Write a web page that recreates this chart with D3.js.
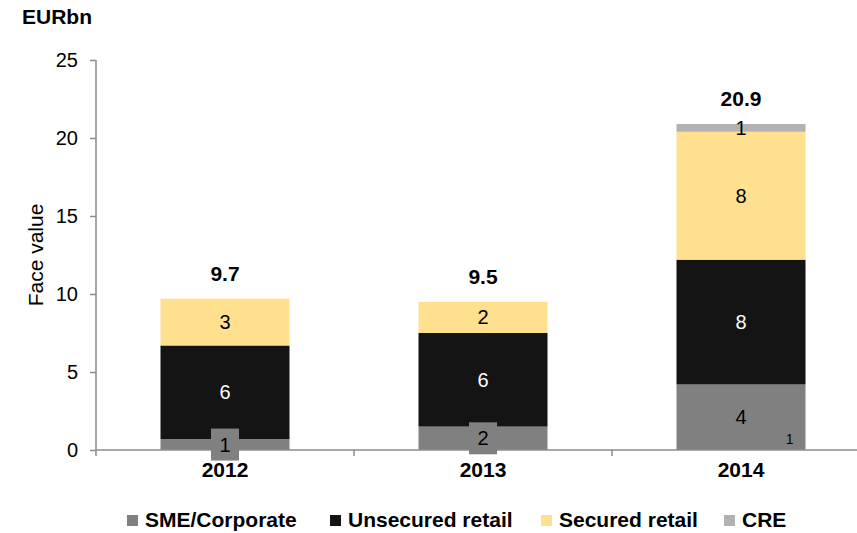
<!DOCTYPE html>
<html><head><meta charset="utf-8">
<script src="https://cdn.jsdelivr.net/npm/d3@7"></script>
<style>body{margin:0;background:#fff}svg{display:block}text{font-family:"Liberation Sans",Arial,sans-serif}</style>
</head><body>
<svg id="c" width="857" height="533"></svg>
<script>
const years = ["2012", "2013", "2014"];
const seriesNames = ["SME/Corporate", "Unsecured retail", "Secured retail", "CRE"];
const smeCorporate = [0.7, 1.5, 4.2];
const unsecuredRetail = [6.0, 6.0, 8.0];
const securedRetail = [3.0, 2.0, 8.2];
const cre = [0.0, 0.0, 0.5];
const segmentLabels = [["1", "6", "3", ""], ["2", "6", "2", ""], ["4", "8", "8", "1"]];
const totals = ["9.7", "9.5", "20.9"];
const yTicks = [0, 5, 10, 15, 20, 25];
const colors = ["#808080", "#141414", "#FFE08F", "#B2B2B2"];
const labelColors = ["#000", "#fff", "#000", "#000"];

const svg = d3.select("#c");
const x = d3.scaleBand().domain(years).range([96, 870]).paddingInner(0.5).paddingOuter(0.25);
const y = d3.scaleLinear().domain([0, 25]).range([450, 60]);
const FS = 20;   // ticks, data labels
const FB = 21;   // bold texts

const table = years.map((yr, i) => ({year: yr, s0: smeCorporate[i], s1: unsecuredRetail[i], s2: securedRetail[i], s3: cre[i]}));
const stack = d3.stack().keys(["s0", "s1", "s2", "s3"])(table);

// bars
stack.forEach((layer, k) => {
  svg.append("g").selectAll("rect").data(layer).join("rect")
    .attr("x", d => x(d.data.year))
    .attr("width", x.bandwidth())
    .attr("y", d => y(d[1]))
    .attr("height", d => y(d[0]) - y(d[1]))
    .attr("fill", colors[k]);
});

// y axis
const yAxis = svg.append("g").attr("transform", "translate(96,0)")
  .call(d3.axisLeft(y).tickValues(yTicks).tickSize(6).tickPadding(12));
yAxis.select(".domain").attr("stroke", "#8c8c8c").attr("stroke-width", 1.5).attr("d", "M0,60V456");
yAxis.selectAll(".tick line").attr("stroke", "#8c8c8c").attr("stroke-width", 1.5);
yAxis.selectAll(".tick text").attr("font-size", FS).attr("fill", "#000")
  .attr("font-family", "Liberation Sans, Arial, sans-serif");

// x axis
const xAxis = svg.append("g").attr("transform", "translate(0,450)")
  .call(d3.axisBottom(x).tickSize(0).tickPadding(12));
xAxis.select(".domain").attr("stroke", "#8c8c8c").attr("stroke-width", 1.5).attr("d", "M96,0H870");
xAxis.selectAll(".tick text").attr("font-size", FB).attr("font-weight", "bold").attr("fill", "#000")
  .attr("font-family", "Liberation Sans, Arial, sans-serif");
// category separators
const step = x.step();
[1, 2].forEach(i => {
  svg.append("line").attr("x1", 96 + step * i).attr("x2", 96 + step * i)
    .attr("y1", 450).attr("y2", 456).attr("stroke", "#8c8c8c").attr("stroke-width", 1.5);
});

// segment labels
stack.forEach((layer, k) => {
  layer.forEach((d, i) => {
    const txt = segmentLabels[i][k];
    if (!txt) return;
    const cx = x(d.data.year) + x.bandwidth() / 2;
    const cy = (y(d[0]) + y(d[1])) / 2;
    if (k === 0) {
      svg.append("rect").attr("x", cx - 14).attr("y", cy - 16).attr("width", 28).attr("height", 32).attr("fill", colors[0]);
    }
    svg.append("text").attr("x", cx).attr("y", cy).attr("dy", "0.35em")
      .attr("text-anchor", "middle").attr("font-size", FS).attr("fill", labelColors[k]).text(txt);
  });
});

// totals
table.forEach((d, i) => {
  const top = d.s0 + d.s1 + d.s2 + d.s3;
  svg.append("text").attr("x", x(d.year) + x.bandwidth() / 2).attr("y", y(top) - 18)
    .attr("text-anchor", "middle").attr("font-size", FB).attr("font-weight", "bold").text(totals[i]);
});

// footnote marker
svg.append("text").attr("x", x("2014") + x.bandwidth() - 12).attr("y", y(0) - 6)
  .attr("text-anchor", "end").attr("font-size", 14).text("1");

// titles
svg.append("text").attr("x", 22).attr("y", 24).attr("font-size", FB).attr("font-weight", "bold").text("EURbn");
svg.append("text").attr("transform", "translate(43,255) rotate(-90)").attr("text-anchor", "middle")
  .attr("font-size", FB).text("Face value");

// legend
const legendX = [127, 330, 541, 724];
seriesNames.forEach((name, k) => {
  const g = svg.append("g").attr("transform", `translate(${legendX[k]},520)`);
  g.append("rect").attr("x", 0).attr("y", -5).attr("width", 11).attr("height", 11).attr("fill", colors[k]);
  g.append("text").attr("x", 18).attr("y", 0).attr("dy", "0.35em").attr("font-size", FB).attr("font-weight", "bold").text(name);
});
</script>
</body></html>
